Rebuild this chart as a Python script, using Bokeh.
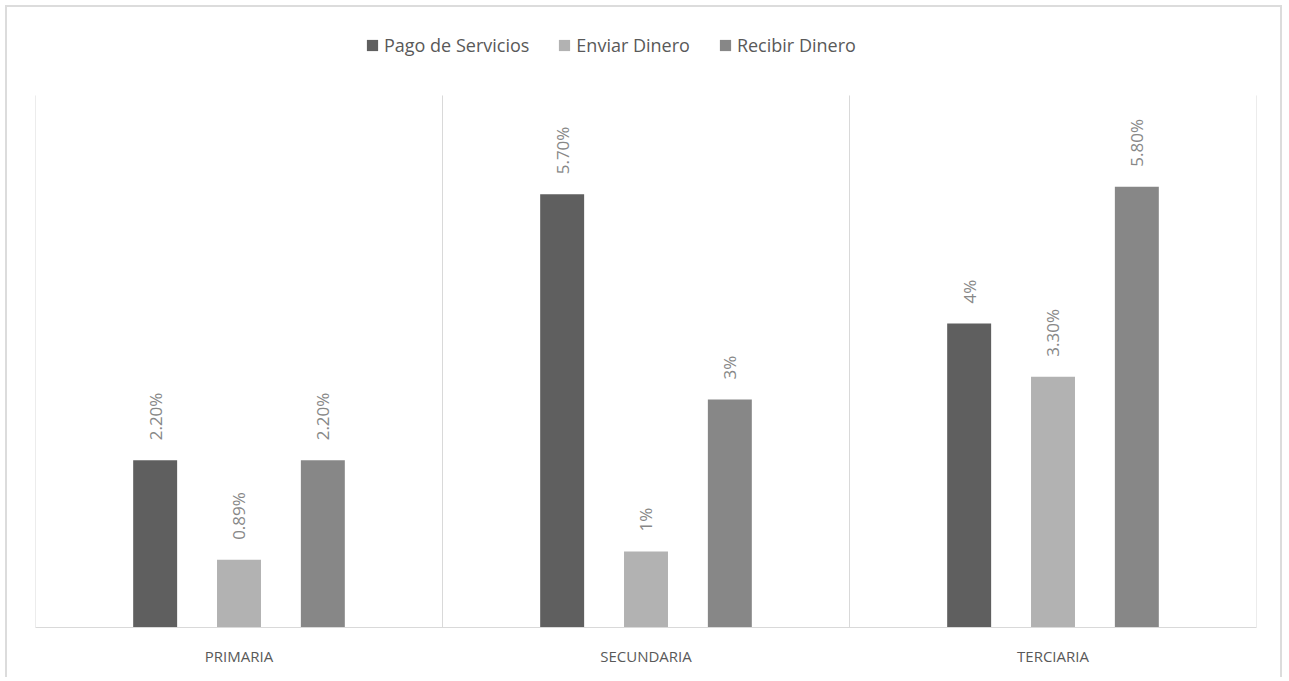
import math
from bokeh.plotting import figure
from bokeh.models import (ColumnDataSource, FixedTicker, Legend, LegendItem,
                          LabelSet, Range1d)
from bokeh.core.properties import value
from bokeh.embed import file_html
from bokeh.resources import INLINE

# ---- data ----
categories = ["PRIMARIA", "SECUNDARIA", "TERCIARIA"]
series = ["Pago de Servicios", "Enviar Dinero", "Recibir Dinero"]
pago = [2.2, 5.7, 4.0]
enviar = [0.89, 1.0, 3.3]
recibir = [2.2, 3.0, 5.8]
labels_pago = ["2.20%", "5.70%", "4%"]
labels_enviar = ["0.89%", "1%", "3.30%"]
labels_recibir = ["2.20%", "3%", "5.80%"]
y_axis_max = 7.0

colors = ["#5f5f5f", "#b2b2b2", "#878787"]
offsets = [-0.206, 0.0, 0.206]
bar_width = 0.108
FONT = "Open Sans"

p = figure(width=1277, height=672, x_range=Range1d(0, len(categories)),
           y_range=Range1d(0, y_axis_max + 0.921),
           output_backend="svg", toolbar_location=None,
           min_border_left=28, min_border_right=28,
           min_border_top=18, min_border_bottom=52)
p.styles = {"margin-left": "5px", "margin-top": "5px",
            "border-left": "2px solid #dcdcdc", "border-right": "2px solid #dcdcdc",
            "border-top": "2px solid #dcdcdc"}

p.yaxis.visible = False
p.ygrid.visible = False
p.xgrid.visible = False
p.outline_line_color = None

# category separators (plot-area gridlines)
bounds = list(range(len(categories) + 1))
p.segment(x0=bounds, y0=[0] * len(bounds), x1=bounds, y1=[y_axis_max] * len(bounds),
          line_color="#d9d9d9", line_width=1)

p.xaxis.ticker = FixedTicker(ticks=[i + 0.5 for i in range(len(categories))])
p.xaxis.major_label_overrides = {i + 0.5: c for i, c in enumerate(categories)}
p.xaxis.major_tick_line_color = None
p.xaxis.major_tick_out = 0
p.xaxis.major_tick_in = 0
p.xaxis.minor_tick_line_color = None
p.xaxis.axis_line_color = "#d9d9d9"
p.xaxis.major_label_text_font = FONT
p.xaxis.major_label_text_font_size = "15px"
p.xaxis.major_label_text_color = "#595959"
p.xaxis.major_label_standoff = 18

items = []
for vals, labs, name, color, off in zip([pago, enviar, recibir],
                                        [labels_pago, labels_enviar, labels_recibir],
                                        series, colors, offsets):
    xs = [i + 0.5 + off for i in range(len(categories))]
    src = ColumnDataSource(dict(x=xs, top=vals, lab=labs))
    r = p.vbar(x="x", top="top", bottom=0, width=bar_width, source=src,
               fill_color=color, line_color=None)
    items.append(LegendItem(label=name, renderers=[r]))
    ls = LabelSet(x="x", y="top", text="lab", source=src, angle=math.pi / 2,
                  text_align="left", text_baseline="middle", y_offset=20,
                  text_font=value(FONT), text_font_size=value("17px"),
                  text_color="#878787")
    p.add_layout(ls)

legend = Legend(items=items, orientation="horizontal", location=(330, 570),
                glyph_width=14, glyph_height=14, label_standoff=5, spacing=28,
                padding=0, margin=0, border_line_color=None,
                background_fill_alpha=0,
                label_text_font=FONT, label_text_font_size="18px",
                label_text_color="#595959")
p.add_layout(legend, "center")

open("out.html", "w").write(file_html(p, INLINE))
